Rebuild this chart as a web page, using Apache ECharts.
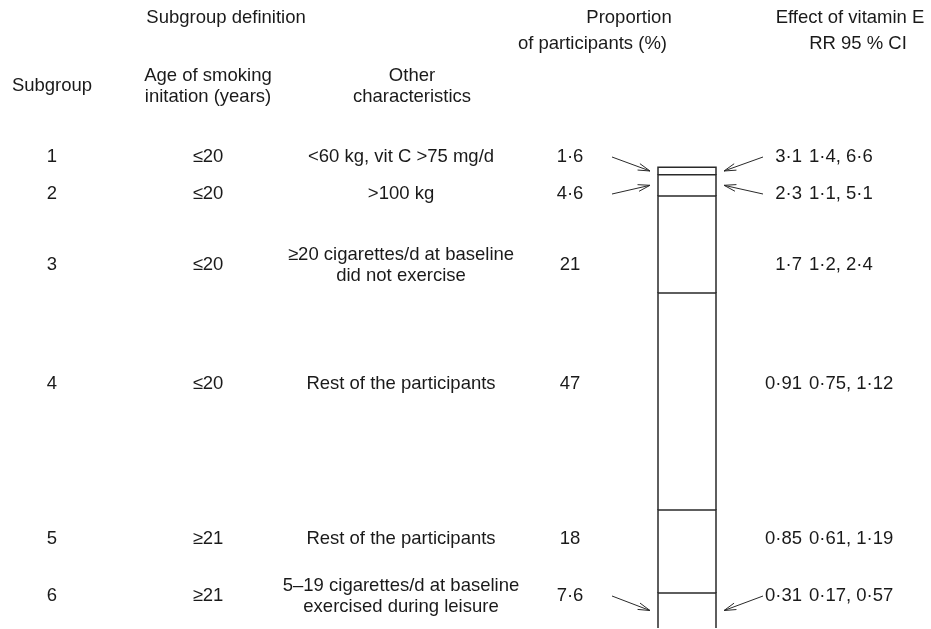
<!DOCTYPE html>
<html><head><meta charset="utf-8">
<script src="https://cdn.jsdelivr.net/npm/echarts@6/dist/echarts.min.js"></script>
<style>html,body{margin:0;padding:0;background:#fff;overflow:hidden}#c{width:931px;height:629px}</style>
</head><body><div id="c"></div>
<script>
// ---- data ----
const subgroups = ['1', '2', '3', '4', '5', '6'];
const ageOfInitiation = ['≤20', '≤20', '≤20', '≤20', '≥21', '≥21'];
const otherCharacteristics = [
  '<60 kg, vit C >75 mg/d',
  '>100 kg',
  '≥20 cigarettes/d at baseline\ndid not exercise',
  'Rest of the participants',
  'Rest of the participants',
  '5–19 cigarettes/d at baseline\nexercised during leisure'
];
const proportion = [1.6, 4.6, 21, 47, 18, 7.6];
const rrValue = [3.1, 2.3, 1.7, 0.91, 0.85, 0.31];
const ciLow = [1.4, 1.1, 1.2, 0.75, 0.61, 0.17];
const ciHigh = [6.6, 5.1, 2.4, 1.12, 1.19, 0.57];
const arrowedSubgroups = [0, 1, 5];

// ---- layout ----
const FONT = '"Liberation Sans", Arial, sans-serif';
const FS = 18.5;
const rowY = [157, 194, 265, 384, 539, 596];
const colX = { sub: 52, age: 208, other: 401, prop: 570, rrRight: 802, ciLeft: 809 };
const BAR_W = 58;
const LINE = '#2a2a2a';
const dot = v => String(v).replace('.', '·');
const ink = '#1a1a1a';

const chart = echarts.init(document.getElementById('c'), null, { renderer: 'canvas' });

// cumulative starts/ends of each stacked segment
const cum = [0];
proportion.forEach((v, i) => cum.push(cum[i] + v));
const segData = proportion.map((v, i) => [0, cum[i], cum[i + 1], v]);

function renderSegment(params, api) {
  const a = api.coord([api.value(0), api.value(1)]);
  const b = api.coord([api.value(0), api.value(2)]);
  const l = a[0] - BAR_W / 2, r = a[0] + BAR_W / 2;
  return {
    type: 'group',
    children: [
      { type: 'rect', shape: { x: l, y: a[1], width: BAR_W, height: b[1] - a[1] }, style: { fill: '#fff' } },
      { type: 'polyline', shape: { points: [[l, b[1]], [l, a[1]], [r, a[1]], [r, b[1]]] },
        style: { stroke: LINE, lineWidth: 1.5, fill: null } }
    ]
  };
}

function txt(text, x, y, align) {
  return {
    type: 'text', silent: true,
    style: { text, x, y, align: align || 'center', verticalAlign: 'middle',
      font: FS + 'px ' + FONT, fill: ink, lineHeight: 21 }
  };
}

const texts = [
  txt('Subgroup definition', 226, 18),
  txt('Proportion', 629, 18),
  txt('of participants (%)', 667, 44, 'right'),
  txt('Effect of vitamin E', 850, 18),
  txt('RR 95 % CI', 858, 44),
  txt('Subgroup', 52, 86),
  txt('Age of smoking\ninitation (years)', 208, 86),
  txt('Other\ncharacteristics', 412, 86)
];
subgroups.forEach((s, i) => {
  const y = rowY[i];
  texts.push(txt(s, colX.sub, y));
  texts.push(txt(ageOfInitiation[i], colX.age, y));
  texts.push(txt(otherCharacteristics[i], colX.other, y));
  texts.push(txt(dot(proportion[i]), colX.prop, y));
  texts.push(txt(dot(rrValue[i]), colX.rrRight, y, 'right'));
  texts.push(txt(dot(ciLow[i]) + ', ' + dot(ciHigh[i]), colX.ciLeft, y, 'left'));
});

chart.setOption({
  animation: false,
  backgroundColor: '#fff',
  grid: { left: 657, width: 60, top: 167.3, height: 463.5 },
  xAxis: { type: 'category', data: ['Proportion of participants'], show: false },
  yAxis: { type: 'value', inverse: true, min: 0, max: 100, show: false },
  series: [{
    type: 'custom',
    name: 'Proportion of participants (%)',
    data: segData,
    encode: { x: 0, y: [1, 2] },
    renderItem: renderSegment,
    clip: false,
    silent: true
  }],
  graphic: texts
});

// arrows pointing at the small segments, positioned from the bar scale
function arrow(from, to) {
  const dx = to[0] - from[0], dy = to[1] - from[1];
  const len = Math.hypot(dx, dy), ux = dx / len, uy = dy / len;
  const hl = 12, hw = 3.4;
  const bx = to[0] - ux * hl, by = to[1] - uy * hl;
  const p1 = [bx - uy * hw, by + ux * hw], p2 = [bx + uy * hw, by - ux * hw];
  return [
    { type: 'polyline', silent: true, shape: { points: [from, to] }, style: { stroke: LINE, lineWidth: 1 } },
    { type: 'polyline', silent: true, shape: { points: [p1, to, p2] }, style: { stroke: LINE, lineWidth: 1, fill: null } }
  ];
}
const extra = [];
arrowedSubgroups.forEach(i => {
  const mid = (cum[i] + cum[i + 1]) / 2;
  const p = chart.convertToPixel({ gridIndex: 0 }, [0, mid]);
  const barL = p[0] - BAR_W / 2, barR = p[0] + BAR_W / 2;
  extra.push(...arrow([612, rowY[i]], [barL - 8, p[1]]));
  extra.push(...arrow([763, rowY[i]], [barR + 8, p[1]]));
});
chart.setOption({ graphic: texts.concat(extra) });
</script>
</body></html>
